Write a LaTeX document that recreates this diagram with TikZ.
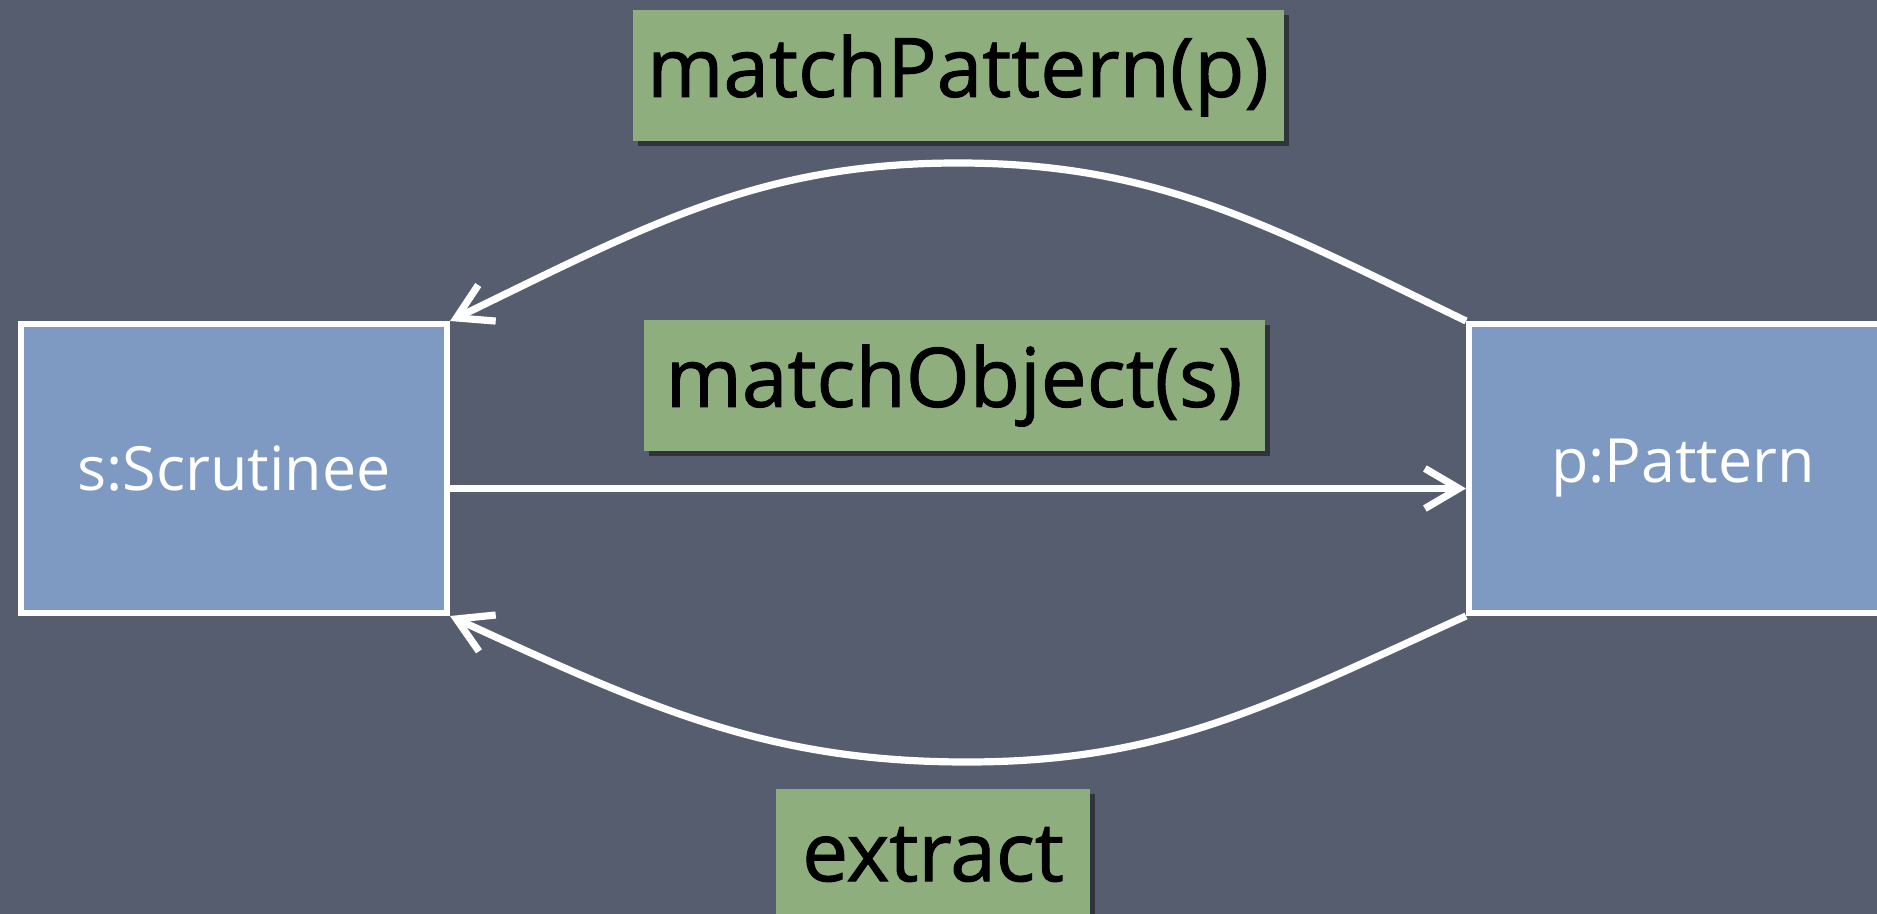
\documentclass[tikz,border=0pt]{standalone}
\usepackage{fontspec}
\setmainfont{Open Sans}
\newfontfamily\labelfont[FakeBold=1.2]{Open Sans}
\usetikzlibrary{arrows.meta,shadows}
\definecolor{slate}{HTML}{555D6F}
\definecolor{boxblue}{HTML}{7E99C2}
\definecolor{labelgreen}{HTML}{8FAE7E}
\begin{document}
\begin{tikzpicture}[x=0.5pt,y=-0.5pt,
  objbox/.style={draw=white, line width=3pt, fill=boxblue, text=white, inner sep=0pt,
    font=\fontsize{30.5}{36}\selectfont},
  msglabel/.style={fill=labelgreen, text=black, inner sep=0pt,
    font=\labelfont\fontsize{41}{50}\selectfont,
    drop shadow={shadow xshift=2.5pt, shadow yshift=-2.5pt, opacity=0.45, fill=black}},
  conn/.style={draw=white, line width=3.6pt,
    -{Straight Barb[length=17pt, width=20pt, line width=3.6pt]}}
]
\useasboundingbox (0,0) rectangle (1877,914);
\clip (0,0) rectangle (1877,914);
\fill[slate] (0,0) rectangle (1877,914);

\node[objbox, minimum width=213pt, minimum height=144.5pt] (scr) at (234,468.5) {s:Scrutinee};
\node[objbox, minimum width=214pt, minimum height=144.5pt] (pat) at (1683,468.5) {p:Pattern};

\node[msglabel, minimum width=325.5pt, minimum height=65.5pt] (mp) at (958,75.5) {matchPattern(p)};
\node[msglabel, minimum width=310.5pt, minimum height=65.5pt] (mo) at (954,385.5) {matchObject(s)};
\node[msglabel, minimum width=157pt, minimum height=65.5pt] (ex) at (933,854.5) {extract};

\draw[conn] (pat.north west) .. controls (1266,224) and (1156,163) .. (958,163)
  .. controls (760,163) and (650,224) .. (scr.north east);
\draw[conn] ([yshift=-10pt]scr.east) -- ([yshift=-10pt]pat.west);
\draw[conn] (pat.south west) .. controls (1270,705) and (1165,762) .. (967,762)
  .. controls (769,762) and (652,709) .. (scr.south east);
\end{tikzpicture}
\end{document}
